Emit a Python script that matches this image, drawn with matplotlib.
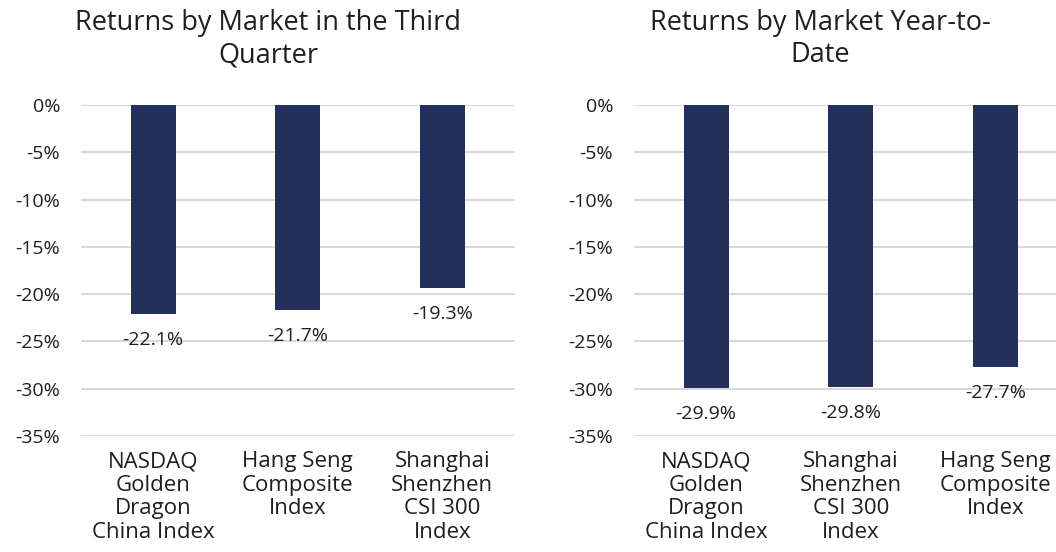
import matplotlib
matplotlib.use('Agg')
import matplotlib.pyplot as plt

plt.rcParams['font.family'] = ['Open Sans', 'DejaVu Sans']

# data
q3_labels = ['NASDAQ\nGolden\nDragon\nChina Index', 'Hang Seng\nComposite\nIndex',
             'Shanghai\nShenzhen\nCSI 300\nIndex']
q3_values = [-22.1, -21.7, -19.3]
ytd_labels = ['NASDAQ\nGolden\nDragon\nChina Index', 'Shanghai\nShenzhen\nCSI 300\nIndex',
              'Hang Seng\nComposite\nIndex']
ytd_values = [-29.9, -29.8, -27.7]
yticks = [0, -5, -10, -15, -20, -25, -30, -35]

bar_color = '#22305A'
grid_color = '#D9D9D9'
text_color = '#1F1F1F'

W, H = 1056, 552
fig = plt.figure(figsize=(W / 100, H / 100), dpi=100)

bottom = 1 - 436 / H
height = 331 / H
ax1 = fig.add_axes([81 / W, bottom, 433.5 / W, height])
ax2 = fig.add_axes([634 / W, bottom, (W - 634) / W, height])


def draw(ax, labels, values, xmax):
    xs = range(len(values))
    ax.bar(xs, values, width=0.31, color=bar_color, zorder=3)
    for x, v in zip(xs, values):
        ax.annotate('%.1f%%' % v, (x, v), xytext=(0, -26), textcoords='offset pixels',
                    ha='center', va='center', fontsize=14, color=text_color, zorder=4)
    ax.set_ylim(-35, 0)
    ax.set_xlim(-0.5, xmax)
    ax.set_yticks(yticks)
    ax.set_yticklabels(['%d%%' % t for t in yticks], fontsize=14, color=text_color)
    ax.set_xticks(list(xs))
    ax.set_xticklabels(labels, fontsize=16, color=text_color, linespacing=1.16, va='top')
    ax.tick_params(axis='both', length=0)
    ax.tick_params(axis='y', pad=15)
    ax.tick_params(axis='x', pad=11)
    for s in ax.spines.values():
        s.set_visible(False)
    ax.yaxis.grid(True, color=grid_color, linewidth=1.5, zorder=0)
    ax.set_axisbelow(True)


draw(ax1, q3_labels, q3_values, 2.5)
draw(ax2, ytd_labels, ytd_values, (W - 634) / 144.5 - 0.5)

fig.text(268 / W, 1 - 39 / H, 'Returns by Market in the Third\nQuarter', ha='center', va='center',
         fontsize=19.5, color=text_color, linespacing=1.2)
fig.text(820 / W, 1 - 39 / H, 'Returns by Market Year-to-\nDate', ha='center', va='center',
         fontsize=19.5, color=text_color, linespacing=1.2)

fig.savefig('out.png', dpi=100)
